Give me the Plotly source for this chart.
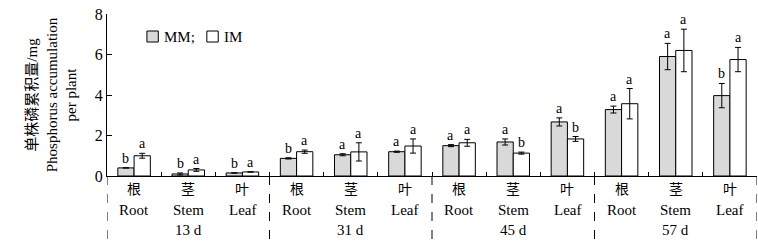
import plotly.graph_objects as go

organs_cn = ["根", "茎", "叶"]
organs_en = ["Root", "Stem", "Leaf"]
days = ["13 d", "31 d", "45 d", "57 d"]

mm = [0.4, 0.1, 0.15, 0.87, 1.05, 1.2, 1.5, 1.68, 2.67, 3.28, 5.9, 3.97]
mm_err = [0.0, 0.05, 0.0, 0.03, 0.05, 0.03, 0.05, 0.15, 0.2, 0.17, 0.65, 0.6]
im = [1.0, 0.3, 0.2, 1.2, 1.19, 1.48, 1.64, 1.13, 1.83, 3.57, 6.2, 5.75]
im_err = [0.12, 0.07, 0.0, 0.08, 0.45, 0.35, 0.17, 0.05, 0.12, 0.75, 1.05, 0.6]
mm_letters = ["b", "b", "b", "b", "a", "a", "a", "a", "a", "a", "a", "b"]
im_letters = ["a", "a", "a", "a", "a", "a", "a", "b", "b", "a", "a", "a"]
series_names = ["MM;", "IM"]
series_colors = ["#d9d9d9", "white"]
y_title_lines = ["单株磷累积量/mg", "Phosphorus accumulation", "per plant"]

n = len(mm)
xs = list(range(n))
SERIF = "Liberation Serif, Times New Roman, serif"
CJK = "Noto Sans CJK SC"
BW = 0.3

fig = go.Figure()
fig.add_trace(go.Bar(
    x=xs, y=mm, name=series_names[0], width=BW, offset=-BW,
    marker=dict(color=series_colors[0], line=dict(color="black", width=1)),
    error_y=dict(type="data", array=mm_err, color="black", thickness=1, width=3),
))
fig.add_trace(go.Bar(
    x=xs, y=im, name=series_names[1], width=BW, offset=0,
    marker=dict(color=series_colors[1], line=dict(color="black", width=1)),
    error_y=dict(type="data", array=im_err, color="black", thickness=1, width=3),
))

ann = []
for i in range(n):
    ann.append(dict(x=i - BW / 2, y=mm[i] + mm_err[i], text=mm_letters[i], showarrow=False,
                    xref="x", yref="y", xanchor="center", yanchor="bottom",
                    font=dict(family=SERIF, size=14, color="black")))
    ann.append(dict(x=i + BW / 2, y=im[i] + im_err[i], text=im_letters[i], showarrow=False,
                    xref="x", yref="y", xanchor="center", yanchor="bottom",
                    font=dict(family=SERIF, size=14, color="black")))
    ann.append(dict(x=i, y=-0.074, text=organs_cn[i % 3], showarrow=False, xref="x", yref="paper",
                    xanchor="center", yanchor="middle", font=dict(family=CJK, size=14, color="black")))
    ann.append(dict(x=i, y=-0.21, text=organs_en[i % 3], showarrow=False, xref="x", yref="paper",
                    xanchor="center", yanchor="middle", font=dict(family=SERIF, size=15, color="black")))
for g, d in enumerate(days):
    ann.append(dict(x=g * 3 + 1, y=-0.333, text=d, showarrow=False, xref="x", yref="paper",
                    xanchor="center", yanchor="middle", font=dict(family=SERIF, size=15, color="black")))

shapes = []
for g in range(len(days) + 1):
    shapes.append(dict(type="line", xref="x", yref="paper", x0=g * 3 - 0.5, x1=g * 3 - 0.5,
                       y0=0, y1=-0.43, line=dict(color="black", width=1, dash="dash")))

# legend (drawn manually to match the compact key of the original)
leg_x = [0.0614, 0.1536]
for k in range(2):
    shapes.append(dict(type="rect", xref="paper", yref="paper", x0=leg_x[k], x1=leg_x[k] + 0.0175,
                       y0=0.827, y1=0.895, fillcolor=series_colors[k],
                       line=dict(color="black", width=1)))
    ann.append(dict(x=leg_x[k] + 0.0235, y=0.861, text=series_names[k], showarrow=False,
                    xref="paper", yref="paper", xanchor="left", yanchor="middle",
                    font=dict(family=SERIF, size=15, color="black")))

fig.update_layout(
    width=758, height=244,
    margin=dict(l=107, r=1, t=14, b=68),
    paper_bgcolor="white", plot_bgcolor="white",
    showlegend=False,
    annotations=ann,
    shapes=shapes,
)
fig.update_xaxes(range=[-0.5, n - 0.5], tickvals=[i + 0.5 for i in range(n)], ticks="inside",
                 ticklen=4, tickcolor="black", showticklabels=False, showgrid=False,
                 showline=True, linecolor="black", linewidth=1, zeroline=False)
fig.update_yaxes(range=[0, 8], tickvals=[0, 2, 4, 6, 8], ticks="inside", ticklen=5,
                 tickcolor="black", showgrid=False, showline=True, linecolor="black",
                 linewidth=1, zeroline=False,
                 tickfont=dict(family=SERIF, size=16, color="black"),
                 title=dict(text="<br>".join(y_title_lines), standoff=14,
                            font=dict(family=SERIF + ", " + CJK, size=15, color="black")),
                 automargin=True)

fig.write_html("out.html", config={"displayModeBar": False},
               post_script="document.body.style.margin='0';")
